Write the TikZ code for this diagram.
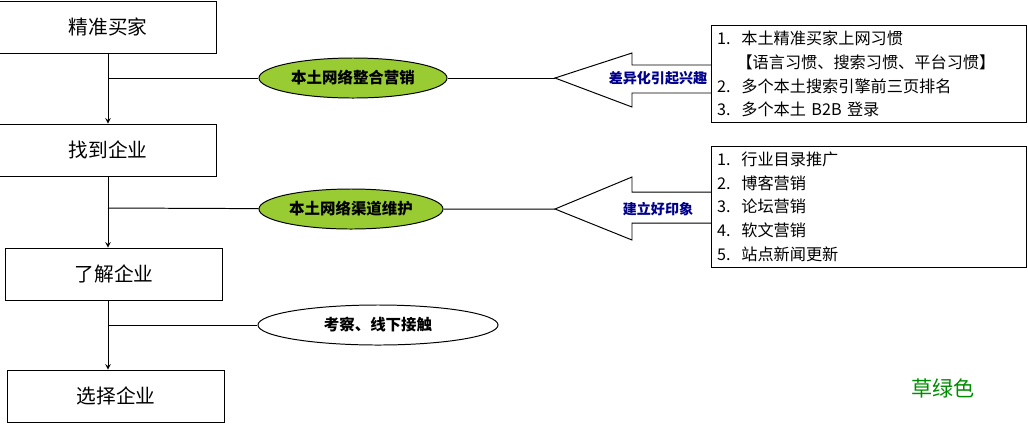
\documentclass[tikz,border=0pt]{standalone}
\usepackage{fontspec}
\setmainfont{Liberation Serif}
\newfontfamily\cjk{Noto Sans CJK SC}
\usetikzlibrary{arrows,shapes.geometric}
\definecolor{grassgreen}{RGB}{153,204,51}
\definecolor{labelblue}{RGB}{0,0,140}
\begin{document}
\begin{tikzpicture}[x=0.025cm,y=-0.025cm,>=stealth,line width=0.7pt,
        stage/.style={draw=black,minimum width=5.4cm,minimum height=1.3cm,font=\cjk\fontsize{14}{16}\selectfont},
        oval/.style={ellipse,draw=black,minimum height=1cm,font=\cjk\bfseries\fontsize{11}{13}\selectfont},
        list/.style={draw=black,anchor=north west,align=left,inner sep=4pt,text width=7.6cm,font=\cjk\fontsize{11.5}{16.8}\selectfont},
        every node/.style={inner sep=2pt}]
        \useasboundingbox (0,0) rectangle (1028,424);
        % steps on the left
        \node[stage] (buyer)  at (108,27)  {精准买家};
        \node[stage] (find)   at (108,150) {找到企业};
        \node[stage] (know)   at (114,274) {了解企业};
        \node[stage] (choose) at (116,396) {选择企业};
        \draw[->] (buyer) -- (buyer |- find.north);
        \draw[->] (find) -- (find |- know.north);
        \draw[->] (know.south -| find) -- (find |- choose.north);
        % branches
        \coordinate (b1) at (108,78);
        \coordinate (b2) at (108,208);
        \coordinate (b3) at (108,325);
        \node[oval,fill=grassgreen,minimum width=4.7cm] (e1) at (353,78)  {本土网络整合营销};
        \node[oval,fill=grassgreen,minimum width=4.6cm] (e2) at (351,209) {本土网络渠道维护};
        \node[oval,fill=white,minimum width=6cm]        (e3) at (378,325) {考察、线下接触};
        \coordinate (t1) at (555,78);
        \coordinate (t2) at (555,209);
        \draw (b1) -- (e1) (e1) -- (t1);
        \draw (b2) -- (e2) (e2) -- (t2);
        \draw (b3) -- (e3);
        % callout arrows
        \draw[fill=white] (711,65) -- (632,65) -- (632,53) -- (t1) -- (632,107) -- (632,93) -- (711,93);
        \draw[fill=white] (711,192) -- (632,192) -- (632,177) -- (t2) -- (632,240) -- (632,223) -- (711,223);
        \node[text=labelblue,font=\cjk\bfseries\fontsize{10}{12}\selectfont] (l1) at (658,78)  {差异化引起兴趣};
        \node[text=labelblue,font=\cjk\bfseries\fontsize{10}{12}\selectfont] (l2) at (658,209) {建立好印象};
        % lists
        \node[list] (list1) at (711,25) {1.\ \ 本土精准买家上网习惯\\
          \hspace*{1.2em}【语言习惯、搜索习惯、平台习惯】\\
          2.\ \ 多个本土搜索引擎前三页排名\\
          3.\ \ 多个本土 B2B 登录};
        \node[list] (list2) at (711,146) {1.\ \ 行业目录推广\\
          2.\ \ 博客营销\\
          3.\ \ 论坛营销\\
          4.\ \ 软文营销\\
          5.\ \ 站点新闻更新};
        \node[text=green!55!black,font=\cjk\fontsize{15}{17}\selectfont] (note) at (943,388) {草绿色};
\end{tikzpicture}
\end{document}
